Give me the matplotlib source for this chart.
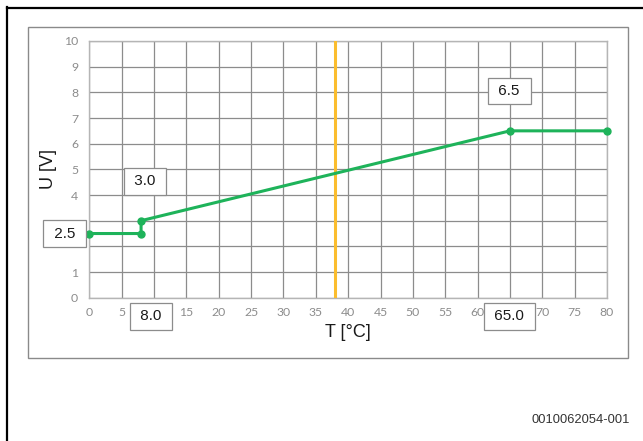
import matplotlib
matplotlib.use("Agg")
import matplotlib.pyplot as plt
from matplotlib.lines import Line2D
from matplotlib.patches import Rectangle

# Data
temps = [0, 8, 8, 65, 80]
volts = [2.5, 2.5, 3.0, 6.5, 6.5]
marker_temp = 38
x_ticks = list(range(0, 85, 5))
y_ticks = list(range(0, 11, 1))
# tick labels hidden behind the value boxes in the reference
x_ticklabels = ["" if t in (10, 65) else str(t) for t in x_ticks]
y_ticklabels = ["" if t in (2, 3) else str(t) for t in y_ticks]
point_labels = ["2.5", "3.0", "6.5", "8.0", "65.0"]
label_pos = [(-3.8, 2.5), (8.6, 4.53), (64.9, 8.05), (9.5, -0.73), (64.9, -0.73)]
x_label = "T [°C]"
y_label = "U [V]"
footer = "0010062054-001"

W, H = 643, 441
fig = plt.figure(figsize=(W / 100, H / 100), dpi=100)

# Outer black frame (left and top edges)
fig.add_artist(Line2D([7 / W, 7 / W], [0, 1 - 7 / H], color="black", lw=1.6,
                      transform=fig.transFigure))
fig.add_artist(Line2D([7 / W, 1], [1 - 7.5 / H, 1 - 7.5 / H], color="black", lw=1.6,
                      transform=fig.transFigure))
# Inner gray chart frame
fig.add_artist(Rectangle((28 / W, 1 - 358 / H), 600 / W, (358 - 26.7) / H,
                         fill=False, edgecolor="#8a8a8a", lw=1.0,
                         transform=fig.transFigure))

ax = fig.add_axes([89.3 / W, 1 - 297.7 / H, (607 - 89.3) / W, (297.7 - 41) / H])
ax.set_xlim(0, 80)
ax.set_ylim(0, 10)
ax.set_xticks(x_ticks, x_ticklabels)
ax.set_yticks(y_ticks, y_ticklabels)
ax.grid(True, color="#8c8c8c", lw=0.9)
ax.set_axisbelow(True)
for s in ax.spines.values():
    s.set_color("#b5b5b5")
    s.set_linewidth(1.0)
ax.tick_params(length=0, colors="#8c8c8c", labelsize=8.8)
ax.tick_params(axis="y", pad=8)
ax.tick_params(axis="x", pad=7)
for lab in ax.get_xticklabels() + ax.get_yticklabels():
    lab.set_family("Lato")

ax.axvline(marker_temp, color="#fbbd2e", lw=2.2, zorder=3)
ax.plot(temps, volts, color="#1eb35a", lw=2.2, marker="o", markersize=5, zorder=4,
        clip_on=False)

for txt, (x, y) in zip(point_labels, label_pos):
    ax.text(x, y, " " + txt + " ", ha="center", va="center", fontsize=11,
            family="Liberation Sans", color="#1a1a1a", zorder=5, clip_on=False,
            bbox=dict(boxstyle="square,pad=0.42", fc="white", ec="#8c8c8c", lw=0.9))

ax.set_xlabel(x_label, fontsize=13, family="Liberation Sans", color="#1a1a1a", labelpad=4)
ax.set_ylabel(y_label, fontsize=13, family="Liberation Sans", color="#1a1a1a", labelpad=5)

fig.text(630 / W, 1 - 420 / H, footer, ha="right", va="center", fontsize=9.3,
         family="Liberation Sans", color="#333333")

fig.savefig("out.png", dpi=100)
